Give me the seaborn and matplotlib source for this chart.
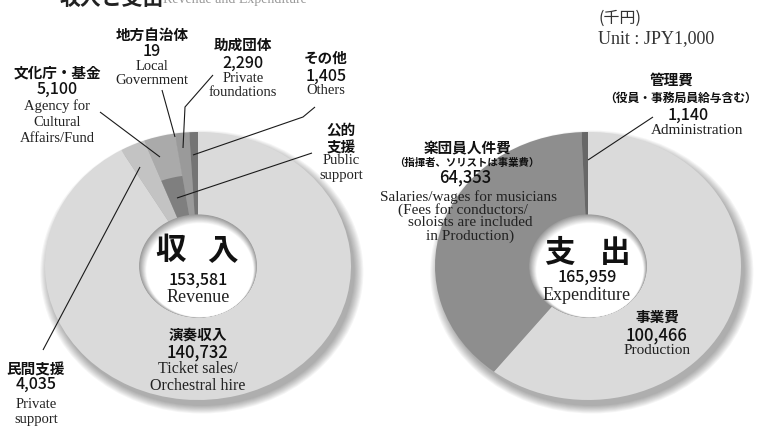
import numpy as np
import matplotlib
matplotlib.use("Agg")
import matplotlib.pyplot as plt
from matplotlib.patches import Ellipse
import matplotlib.colors as mcolors
import seaborn as sns

# ---------------- data ----------------
rev_labels = ["演奏収入", "民間支援", "文化庁・基金", "地方自治体", "助成団体", "その他"]
rev_values = [140732, 4035, 5100, 19, 2290, 1405]
rev_colors = ["#dadada", "#c3c3c3", "#aaaaaa", "#858585", "#9a9a9a", "#747474"]
pub_label = "公的支援"
pub_color = "#7f7f7f"
exp_labels = ["事業費", "楽団員人件費", "管理費"]
exp_values = [100466, 64353, 1140]
exp_colors = ["#dadada", "#8e8e8e", "#676767"]
rev_total = 153581
exp_total = 165959

sns.set_theme(style="white")
JP = "Noto Sans CJK JP"
SERIF = "Liberation Serif"
plt.rcParams["font.family"] = [JP, "DejaVu Sans"]

W, H = 763, 426
fig = plt.figure(figsize=(W / 100, H / 100), dpi=100)
fig.patch.set_facecolor("white")

RX, RY = 153, 134
M = 1.14


def donut(cx, cy, values, colors, inner=None):
    left = (cx - M * RX) / W
    width = 2 * M * RX / W
    bottom = (H - (cy + M * RY)) / H
    height = 2 * M * RY / H
    ax = fig.add_axes([left, bottom, width, height])
    # soft drop shadow
    for i in range(9):
        s = 1.0 + 0.007 * i
        ax.add_patch(Ellipse((0.025, -0.045), 2 * s, 2 * s, facecolor="black",
                             alpha=0.04, lw=0, zorder=0))
    ax.pie(values, colors=colors, startangle=90, counterclock=False, radius=1.0,
           wedgeprops=dict(width=0.62, linewidth=0, zorder=1))
    if inner is not None:
        ivals, icols = inner
        ax.pie(ivals, colors=icols, startangle=90, counterclock=False, radius=0.68,
               wedgeprops=dict(width=0.30, linewidth=0, zorder=2))
    # shaded hole
    grey = np.array(mcolors.to_rgb("#9c9c9c"))
    white = np.array([1.0, 1.0, 1.0])
    n = 14
    for k in range(n):
        t = k / (n - 1)
        col = grey * (1 - t) + white * t
        r = 0.385 - 0.035 * t
        ax.add_patch(Ellipse((0.012 * t, -0.03 * t), 2 * r, 2 * r, facecolor=col,
                             lw=0, zorder=3))
    ax.set_aspect("auto")
    ax.set_xlim(-M, M)
    ax.set_ylim(-M, M)
    ax.axis("off")
    return ax


inner_vals = [rev_values[0] + rev_values[1], rev_values[2] + rev_values[3],
              rev_values[4] + rev_values[5]]
inner_cols = ["none", pub_color, "none"]
donut(198, 266, rev_values, rev_colors, inner=(inner_vals, inner_cols))
donut(588, 266, exp_values, exp_colors)

# overlay for text and leader lines (pixel coordinates)
ot = fig.add_axes([0, 0, 1, 1])
ot.set_xlim(0, W)
ot.set_ylim(H, 0)
ot.axis("off")
ot.patch.set_alpha(0)


def jp(x, y, s, size=10.5, weight="bold", color="#111111"):
    ot.text(x, y, s, ha="center", va="center", fontsize=size, fontweight=weight,
            family=[JP, "DejaVu Sans"], color=color)


def num(x, y, s, size=11.5):
    ot.text(x, y, s, ha="center", va="center", fontsize=size, fontweight="medium",
            family=[JP, "DejaVu Sans"], color="#111111")


def en(x, y, s, size=10.5):
    ot.text(x, y, s, ha="center", va="center", fontsize=size,
            family=[SERIF, "DejaVu Serif"], color="#222222")


def fmt(v):
    return f"{v:,}"


# partially visible heading at the very top (cut off in the reference too)
ot.text(60, 5, "収入と支出", ha="left", va="baseline", fontsize=15, fontweight="bold",
        family=[JP, "DejaVu Sans"], color="#222222")
ot.text(163, 3, "Revenue and Expenditure", ha="left", va="baseline", fontsize=10,
        family=[SERIF, "DejaVu Serif"], color="#999999")

# unit
ot.text(598, 18, "(千円)", ha="left", va="center", fontsize=11.5,
        family=[JP, "DejaVu Sans"], color="#333333")
ot.text(598, 39, "Unit : JPY1,000", ha="left", va="center", fontsize=13,
        family=[SERIF, "DejaVu Serif"], color="#333333")

# ---- revenue labels ----
jp(152, 35, rev_labels[3])
num(152, 52, fmt(rev_values[3]))
en(152, 67, "Local")
en(152, 81, "Government")

jp(243, 45, rev_labels[4])
num(243, 63, fmt(rev_values[4]))
en(243, 78, "Private")
en(243, 92, "foundations")

jp(326, 58, rev_labels[5])
num(326, 76, fmt(rev_values[5]))
en(326, 91, "Others")

jp(57, 72, rev_labels[2])
num(57, 89, fmt(rev_values[2]))
en(57, 106, "Agency for")
en(57, 122, "Cultural")
en(57, 138, "Affairs/Fund")

jp(341, 130, pub_label[:2])
jp(341, 147, pub_label[2:])
en(341, 161, "Public")
en(341, 175, "support")

jp(36, 369, rev_labels[1])
num(36, 384, fmt(rev_values[1]))
en(36, 405, "Private")
en(36, 419, "support")

jp(198, 335, rev_labels[0])
num(198, 352, fmt(rev_values[0]), size=12)
en(198, 369, "Ticket sales/", size=11.5)
en(198, 386, "Orchestral hire", size=11.5)

jp(171, 250, "収", size=22)
jp(222, 250, "入", size=22)
num(198, 280, fmt(rev_total), size=11.5)
en(198, 297, "Revenue", size=13)

# ---- expenditure labels ----
jp(672, 80, exp_labels[2])
jp(681, 98, "（役員・事務局員給与含む）", size=8.5)
num(688, 115, fmt(exp_values[2]))
en(697, 130, "Administration", size=11)

jp(468, 148, exp_labels[1])
jp(467, 163, "（指揮者、ソリストは事業費）", size=7.5)
num(465, 177, fmt(exp_values[1]), size=12)
en(468, 197, "Salaries/wages for musicians", size=11)
en(463, 210, "(Fees for conductors/", size=11)
en(470, 223, "soloists are included", size=11)
en(470, 236, "in Production)", size=11)

jp(559, 253, "支", size=22)
jp(615, 253, "出", size=22)
num(587, 277, fmt(exp_total), size=11.5)
en(587, 295, "Expenditure", size=13)

jp(657, 317, exp_labels[0])
num(657, 335, fmt(exp_values[0]), size=12)
en(657, 350, "Production", size=11)

# ---- leader lines ----
lc = dict(color="#1a1a1a", lw=0.8, solid_capstyle="butt")
ot.plot([100, 160], [112, 157], **lc)
ot.plot([162, 175], [90, 137], **lc)
ot.plot([213, 185, 183], [75, 107, 148], **lc)
ot.plot([315, 303, 193], [107, 117, 155], **lc)
ot.plot([312, 177], [153, 198], **lc)
ot.plot([140, 43], [167, 350], **lc)
ot.plot([653, 588], [117, 160], **lc)

fig.savefig("out.png", dpi=100, facecolor="white")
